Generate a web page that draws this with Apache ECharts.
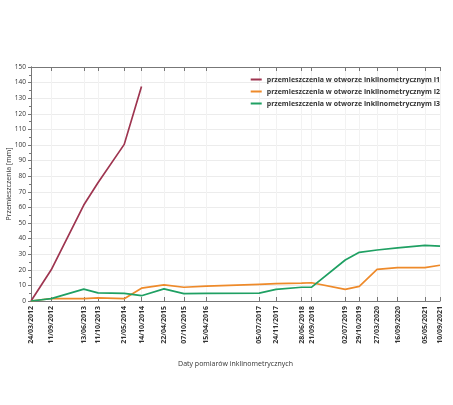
<!DOCTYPE html>
<html>
<head>
<meta charset="utf-8">
<script src="https://cdn.jsdelivr.net/npm/echarts@6/dist/echarts.min.js"></script>
<style>
  html, body { margin: 0; padding: 0; background: #fff; }
  #chart { width: 453px; height: 405px; }
</style>
</head>
<body>
<div id="chart"></div>
<script>
// Measurement dates (DD/MM/YYYY)
const dates = [
  '24/03/2012', '11/09/2012', '13/06/2013', '11/10/2013', '21/05/2014',
  '14/10/2014', '22/04/2015', '07/10/2015', '15/04/2016', '05/07/2017',
  '24/11/2017', '28/06/2018', '21/09/2018', '02/07/2019', '29/10/2019',
  '27/03/2020', '16/09/2020', '05/05/2021', '10/09/2021'
];
// Displacements [mm]
const i1Values = [0, 20, 61.5, 75.8, 100.4, 137.5];
const i2Values = [0, 1.6, 1.5, 2.0, 1.5, 8.2, 10.3, 8.8, 9.5, 10.7, 11.1, 11.5, 11.7, 7.5, 9.4, 20.3, 21.4, 21.4, 22.9];
const i3Values = [0, 1.5, 7.6, 5.2, 4.9, 3.4, 7.8, 4.7, 4.9, 5.0, 7.5, 8.8, 8.9, 26.3, 31.2, 32.7, 34.0, 35.7, 35.2];
const seriesNames = [
  'przemieszczenia w otworze inklinometrycznym I1',
  'przemieszczenia w otworze inklinometrycznym I2',
  'przemieszczenia w otworze inklinometrycznym I3'
];
const yTitle = 'Przemieszczenia [mm]';
const xTitle = 'Daty pomiarów inklinometrycznych';

// Dates are placed on a linear day scale (days since the first measurement)
const DAY = 86400000;
function toTime(s) {
  const [d, m, y] = s.split('/').map(Number);
  return Date.UTC(y, m - 1, d);
}
const t0 = toTime(dates[0]);
const days = dates.map(s => Math.round((toTime(s) - t0) / DAY));
const labelByDay = {};
days.forEach((d, i) => { labelByDay[d] = dates[i]; });
const pairs = vals => vals.map((v, i) => [days[i], v]);

const FONT = '"Open Sans", "Liberation Sans", sans-serif';
const TXT = '#333';
const AX = '#777';

const chart = echarts.init(document.getElementById('chart'), null, { renderer: 'canvas' });
chart.setOption({
  animation: false,
  backgroundColor: '#fff',
  grid: { left: 31, right: 13, top: 67, bottom: 104, containLabel: false, outerBoundsMode: 'none' },
  legend: {
    orient: 'vertical',
    right: 8,
    top: 71,
    itemWidth: 11,
    itemHeight: 2,
    itemGap: 5,
    icon: 'rect',
    textStyle: { fontFamily: FONT, fontSize: 7, color: TXT, fontWeight: 'bold' },
    data: seriesNames
  },
  xAxis: [{
    type: 'value',
    min: days[0],
    max: days[days.length - 1],
    name: xTitle,
    nameLocation: 'middle',
    nameGap: 59,
    nameMoveOverlap: false,
    nameTextStyle: { fontFamily: FONT, fontSize: 7, color: TXT },
    axisLine: { onZero: false, lineStyle: { color: AX, width: 1 } },
    axisTick: { show: true, customValues: days, length: 4, inside: true, lineStyle: { color: AX } },
    axisLabel: {
      customValues: days,
      rotate: 90,
      fontFamily: FONT, fontSize: 7, fontWeight: 'bold', color: TXT,
      margin: 5,
      formatter: v => labelByDay[Math.round(v)] || ''
    },
    splitLine: { show: true, lineStyle: { color: '#f2f2f2', width: 1 } }
  }, {
    type: 'value',
    position: 'top',
    min: days[0],
    max: days[days.length - 1],
    axisLine: { show: true, onZero: false, lineStyle: { color: AX, width: 1 } },
    axisTick: { show: true, customValues: days, length: 4, inside: true, lineStyle: { color: AX } },
    axisLabel: { show: false },
    splitLine: { show: false }
  }],
  yAxis: [{
    type: 'value',
    min: 0, max: 150, interval: 10,
    name: yTitle,
    nameLocation: 'middle',
    nameGap: 19,
    nameMoveOverlap: false,
    nameTextStyle: { fontFamily: FONT, fontSize: 7, color: TXT },
    axisLine: { show: true, lineStyle: { color: AX } },
    axisTick: { show: true, length: 3, lineStyle: { color: AX } },
    minorTick: { show: true, splitNumber: 2, length: 2, lineStyle: { color: AX } },
    axisLabel: { fontFamily: FONT, fontSize: 6.5, color: TXT, margin: 5 },
    splitLine: { show: true, lineStyle: { color: '#ececec', width: 1 } }
  }, {
    type: 'value',
    position: 'right',
    min: 0, max: 150, interval: 10,
    axisLine: { show: true, lineStyle: { color: AX } },
    axisTick: { show: true, inside: true, length: 3, lineStyle: { color: AX } },
    minorTick: { show: true, splitNumber: 2, length: 2, lineStyle: { color: AX } },
    axisLabel: { show: false },
    splitLine: { show: false }
  }],
  series: [{
    name: seriesNames[0],
    type: 'line',
    data: pairs(i1Values),
    showSymbol: false,
    lineStyle: { color: '#9e3550', width: 1.7 },
    itemStyle: { color: '#9e3550' }
  }, {
    name: seriesNames[1],
    type: 'line',
    data: pairs(i2Values),
    showSymbol: false,
    lineStyle: { color: '#ee8a2a', width: 1.7 },
    itemStyle: { color: '#ee8a2a' }
  }, {
    name: seriesNames[2],
    type: 'line',
    data: pairs(i3Values),
    showSymbol: false,
    lineStyle: { color: '#1fa063', width: 1.7 },
    itemStyle: { color: '#1fa063' }
  }]
});
</script>
</body>
</html>
